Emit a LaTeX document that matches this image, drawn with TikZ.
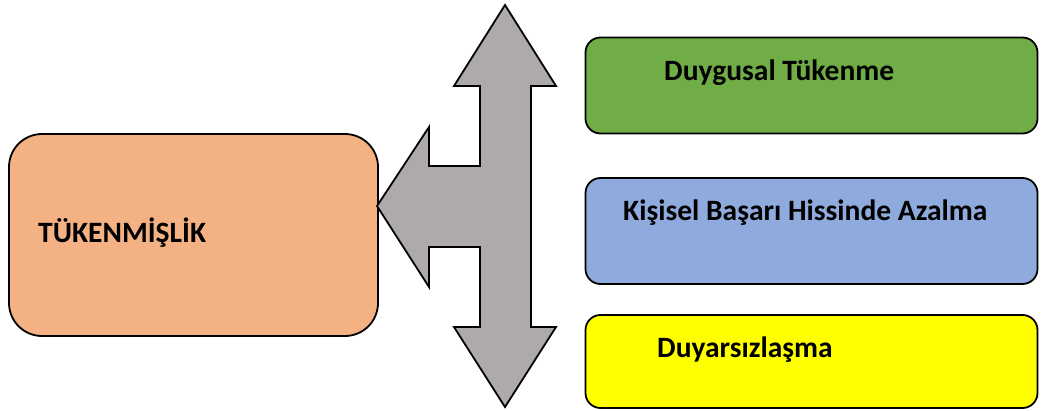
\documentclass[tikz,border=0pt]{standalone}
\usepackage{fontspec}
\setmainfont{Carlito}
\definecolor{boxorange}{HTML}{F4B183}
\definecolor{boxgreen}{HTML}{70AD47}
\definecolor{boxblue}{HTML}{8FAADC}
\definecolor{boxyellow}{HTML}{FFFF00}
\definecolor{arrowgray}{HTML}{AEAAAA}
\tikzset{
  rbox/.style={draw=black, line width=1.8pt, rounded corners=#1, inner sep=0pt},
  lbl/.style={anchor=base west, inner sep=0pt, font=\fontsize{29.5}{34}\selectfont\bfseries},
}
\begin{document}
\begin{tikzpicture}[x=1pt,y=-1pt]
\useasboundingbox (0,0) rectangle (1045,410);
% boxes
\node[rbox=33pt, fill=boxorange, minimum width=369pt, minimum height=202pt] (burn) at (193.5,235) {};
\node[rbox=15pt, fill=boxgreen, minimum width=452pt, minimum height=96pt] (green) at (811.5,85.5) {};
\node[rbox=15pt, fill=boxblue, minimum width=452pt, minimum height=106pt] (blue) at (811.5,231) {};
\node[rbox=15pt, fill=boxyellow, minimum width=452pt, minimum height=93pt] (yellow) at (811.5,361.5) {};
% labels
\node[lbl] (tburn) at (38,242) {TÜKENMİŞLİK};
\node[lbl] (tgreen) at (664,80) {Duygusal Tükenme};
\node[lbl] (tblue) at (623,220) {Kişisel Başarı Hissinde Azalma};
\node[lbl] (tyellow) at (657,357) {Duyarsızlaşma};
% arrow shape
\coordinate (tip) at (377,206);
\draw[line width=1.8pt, fill=arrowgray, line join=miter]
  (505,5) -- (556,86) -- (531,86) -- (531,327) -- (556,327) -- (505,407)
  -- (454,327) -- (480,327) -- (480,247) -- (429,247) -- (429,287)
  -- (tip) -- (429,127) -- (429,166) -- (480,166) -- (480,86) -- (454,86) -- cycle;
\end{tikzpicture}
\end{document}
